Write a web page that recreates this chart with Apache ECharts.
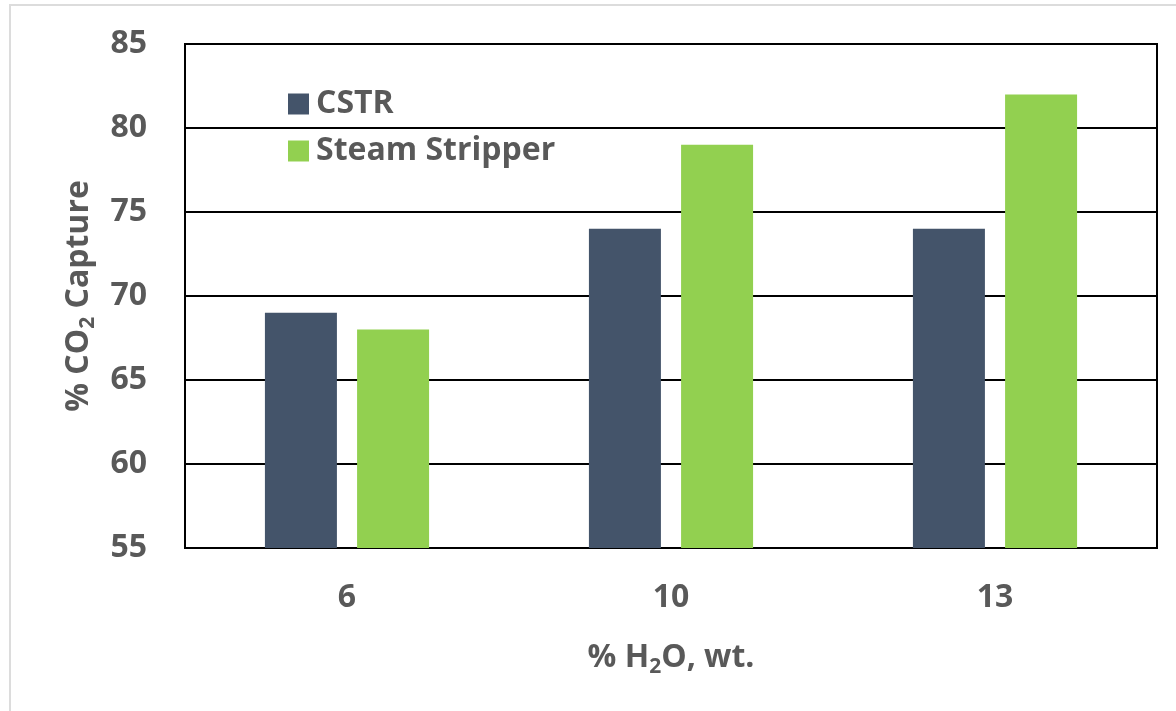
<!DOCTYPE html>
<html>
<head>
<meta charset="utf-8">
<title>CO2 capture vs water content</title>
<script src="https://cdn.jsdelivr.net/npm/echarts@6/dist/echarts.min.js"></script>
<style>
  html, body { margin: 0; padding: 0; background: #ffffff; }
  #chart { width: 1176px; height: 711px; }
</style>
</head>
<body>
<div id="chart"></div>
<script>
// Water content in the solvent (% H2O, wt.)
const categories = ['6', '10', '13'];
// % CO2 capture for each regeneration setup
const cstrValues = [69, 74, 74];
const steamStripperValues = [68, 79, 82];
// Value axis range and step
const yMin = 55;
const yMax = 85;
const yStep = 5;

const FONT = '"Open Sans", "Liberation Sans", sans-serif';
const TEXT_COLOR = '#595959';
const FONT_SIZE = 32;

const subStyle = {
  fontSize: 21,
  lineHeight: 21,
  fontWeight: 'bold',
  fontFamily: FONT,
  color: TEXT_COLOR,
  verticalAlign: 'bottom'
};

const chart = echarts.init(document.getElementById('chart'), null, { renderer: 'canvas' });

chart.setOption({
  backgroundColor: '#ffffff',
  animation: false,
  textStyle: { fontFamily: FONT },
  grid: {
    left: 185,
    right: 19,
    top: 44,
    bottom: 163,
    show: true,
    borderColor: '#000000',
    borderWidth: 2,
    backgroundColor: 'transparent'
  },
  legend: {
    orient: 'vertical',
    left: 283,
    top: 83,
    itemWidth: 21,
    itemHeight: 21,
    itemGap: 15,
    icon: 'rect',
    selectedMode: false,
    textStyle: {
      fontSize: FONT_SIZE,
      fontWeight: 'bold',
      color: TEXT_COLOR,
      fontFamily: FONT,
      lineHeight: 30,
      padding: [0, 0, 0, 2]
    },
    data: ['CSTR', 'Steam Stripper']
  },
  xAxis: {
    type: 'category',
    data: categories,
    axisTick: { show: false },
    axisLine: { show: true, lineStyle: { color: '#000000', width: 2 } },
    axisLabel: {
      margin: 34,
      fontSize: FONT_SIZE,
      fontWeight: 'bold',
      color: TEXT_COLOR,
      fontFamily: FONT
    },
    name: '% H{sub|2}O, wt.',
    nameLocation: 'middle',
    nameGap: 90,
    nameTextStyle: {
      fontSize: FONT_SIZE,
      fontWeight: 'bold',
      color: TEXT_COLOR,
      fontFamily: FONT,
      lineHeight: 40,
      rich: { sub: subStyle }
    }
  },
  yAxis: {
    type: 'value',
    min: yMin,
    max: yMax,
    interval: yStep,
    axisTick: { show: false },
    axisLine: { show: true, lineStyle: { color: '#000000', width: 2 } },
    splitLine: { show: true, lineStyle: { color: '#000000', width: 2 } },
    axisLabel: {
      margin: 38,
      fontSize: FONT_SIZE,
      fontWeight: 'bold',
      color: TEXT_COLOR,
      fontFamily: FONT
    },
    name: '% CO{sub|2} Capture',
    nameLocation: 'middle',
    nameRotate: 90,
    nameGap: 86,
    nameTextStyle: {
      fontSize: FONT_SIZE,
      fontWeight: 'bold',
      color: TEXT_COLOR,
      fontFamily: FONT,
      lineHeight: 40,
      rich: { sub: subStyle }
    }
  },
  series: [
    {
      name: 'CSTR',
      type: 'bar',
      data: cstrValues,
      barWidth: 72,
      barGap: '28%',
      itemStyle: { color: '#44546A' }
    },
    {
      name: 'Steam Stripper',
      type: 'bar',
      data: steamStripperValues,
      barWidth: 72,
      barGap: '28%',
      itemStyle: { color: '#92D050' }
    }
  ],
  graphic: [
    // thin frame along the top and left of the figure
    {
      type: 'polyline',
      silent: true,
      shape: { points: [[10, 711], [10, 5], [1176, 5]] },
      style: { stroke: '#dcdcdc', lineWidth: 2, fill: null }
    }
  ]
});
</script>
</body>
</html>
